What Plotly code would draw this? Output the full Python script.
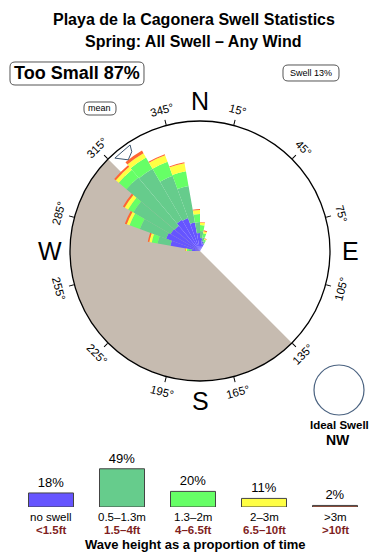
import math
import plotly.graph_objects as go

# ---------------- data ----------------
directions = [275, 285, 295, 305, 315, 325, 335, 345, 355, 5, 15, 25]
# band thicknesses (stacked outward), arbitrary radial units (circle = 130)
no_swell   = [8, 30, 36, 34, 33, 36, 35, 29, 18, 13, 10, 8]
band_05_13 = [3, 13, 28, 43, 63, 59, 45, 37, 11, 7, 4, 2]
band_13_2  = [2, 6, 11, 6, 10, 13, 15, 15, 8, 6, 4, 2]
band_2_3   = [1.5, 2.5, 3, 4, 4, 5, 7, 8, 4, 2.5, 2, 1]
band_3p    = [0.5, 1.5, 2, 2, 2, 3, 1, 1, 1, 0.5, 1, 0.5]

land_center, land_width = 225, 180
mean_dir = 322

tick_angles = [15, 45, 75, 105, 135, 165, 195, 225, 255, 285, 315, 345]
cardinals = ["N", "E", "S", "W"]
cardinal_angles = [0, 90, 180, 270]

leg_pct = [18, 49, 20, 11, 2]
leg_lab = ["no swell", "0.5\u20131.3m", "1.3\u20132m", "2\u20133m", ">3m"]
leg_ft = ["<1.5ft", "1.5\u20134ft", "4\u20136.5ft", "6.5\u201310ft", ">10ft"]

colors = ["#6655ff", "#66cc8c", "#66ff66", "#ffff44", "#ff6633"]
leg_colors = ["#6655ff", "#66cc8c", "#66ff66", "#ffff44", "#cc5533"]

W, H = 390, 560
CX, CY, R = 200, 251, 130
FONT = "Liberation Sans, Arial, sans-serif"


def px(x, y):
    return x / W, 1 - y / H


fig = go.Figure()

# land sector
fig.add_trace(go.Barpolar(r=[R], theta=[land_center], width=[land_width],
                          marker=dict(color="#c6bbb0", line=dict(width=0)),
                          hoverinfo="skip", showlegend=False))

for vals, col in zip([no_swell, band_05_13, band_13_2, band_2_3, band_3p], colors):
    fig.add_trace(go.Barpolar(r=vals, theta=directions, width=[10] * len(directions),
                              marker=dict(color=col, line=dict(width=0)),
                              showlegend=False))

# mean marker (small arrow outline at the rim)
mr = [126, 127, 120.5, 116, 126]
mt = [mean_dir - 4.5, mean_dir + 4.6, mean_dir + 3.5, mean_dir - 0.2, mean_dir - 4.5]
fig.add_trace(go.Scatterpolar(r=mr, theta=mt, mode="lines", fill="toself",
                              fillcolor="white", line=dict(color="#3d5670", width=1),
                              showlegend=False, hoverinfo="skip"))

fig.update_layout(
    width=W, height=H, margin=dict(l=0, r=0, t=0, b=0),
    paper_bgcolor="white", plot_bgcolor="white",
    font=dict(family=FONT, color="black"),
    polar=dict(
        domain=dict(x=[(CX - R) / W, (CX + R) / W], y=[1 - (CY + R) / H, 1 - (CY - R) / H]),
        bgcolor="white", barmode="stack", bargap=0,
        radialaxis=dict(range=[0, R], visible=False),
        angularaxis=dict(rotation=90, direction="clockwise", showgrid=False,
                         showticklabels=False, ticks="outside", ticklen=5,
                         tickcolor="black", tickmode="array", tickvals=tick_angles,
                         showline=True, linecolor="black", linewidth=1.3,
                         layer="above traces"),
    ),
)

ann = []
# degree labels
for a in tick_angles:
    rr = 146
    x = CX + rr * math.sin(math.radians(a))
    y = CY - rr * math.cos(math.radians(a))
    if a <= 90:
        ta = a
    elif a < 270:
        ta = a - 180
    else:
        ta = a - 360
    xp, yp = px(x, y)
    ann.append(dict(x=xp, y=yp, xref="paper", yref="paper", text=f"{a}\u00b0",
                    showarrow=False, textangle=ta, font=dict(size=11.5, family=FONT),
                    xanchor="center", yanchor="middle"))
for c, a in zip(cardinals, cardinal_angles):
    rr = 150
    x = CX + rr * math.sin(math.radians(a))
    y = CY - rr * math.cos(math.radians(a))
    xp, yp = px(x, y)
    ann.append(dict(x=xp, y=yp, xref="paper", yref="paper", text=c, showarrow=False,
                    font=dict(size=25, family=FONT), xanchor="center", yanchor="middle"))


def text(x, y, s, size, bold=False, color="black"):
    xp, yp = px(x, y)
    ann.append(dict(x=xp, y=yp, xref="paper", yref="paper",
                    text=f"<b>{s}</b>" if bold else s, showarrow=False,
                    font=dict(size=size, family=FONT, color=color),
                    xanchor="center", yanchor="middle"))


text(194, 20, "Playa de la Cagonera Swell Statistics", 16, True)
text(193, 42, "Spring: All Swell \u2013 Any Wind", 16, True)
text(77, 73.5, "Too Small 87%", 18, True)
text(311, 73, "Swell 13%", 9)
text(100, 108.5, "mean", 9)
text(339, 425, "Ideal Swell", 11.5, True)
text(338, 440, "NW", 14, True)
text(195, 544, "Wave height as a proportion of time", 13, True)

# legend labels
spacing, x_first = 71, 51
for i, (l1, l2) in enumerate(zip(leg_lab, leg_ft)):
    text(x_first + spacing * i, 516.5, l1, 11.5)
    text(x_first + spacing * i, 530, l2, 11.5, True, "#7f1f1f")

fig.update_layout(annotations=ann)


# rounded boxes
def rrect(x0, y0, x1, y1, r):
    def P(x, y):
        a, b = px(x, y)
        return f"{a:.5f},{b:.5f}"
    p = (f"M {P(x0 + r, y0)} L {P(x1 - r, y0)} Q {P(x1, y0)} {P(x1, y0 + r)} "
         f"L {P(x1, y1 - r)} Q {P(x1, y1)} {P(x1 - r, y1)} L {P(x0 + r, y1)} "
         f"Q {P(x0, y1)} {P(x0, y1 - r)} L {P(x0, y0 + r)} Q {P(x0, y0)} {P(x0 + r, y0)} Z")
    return dict(type="path", path=p, xref="paper", yref="paper",
                line=dict(color="#555555", width=1))


shapes = [rrect(10, 62, 144, 85, 5), rrect(283, 65, 339, 81, 5), rrect(84, 102, 116, 115, 5)]
# ideal swell circle
a0, b0 = px(339 - 25, 390 - 25)
a1, b1 = px(339 + 25, 390 + 25)
shapes.append(dict(type="circle", xref="paper", yref="paper", x0=a0, y0=b1, x1=a1, y1=b0,
                   line=dict(color="#4a6280", width=1.2)))
fig.update_layout(shapes=shapes)

# legend bars
x0v = -x_first / spacing
x1v = x0v + W / spacing
bot_px, top_px, ppp = 507, 450, 0.78
fig.add_trace(go.Bar(x=list(range(len(leg_pct))), y=leg_pct, width=45 / spacing,
                     marker=dict(color=leg_colors, line=dict(color="#444444", width=1)),
                     text=[f"{v}%" for v in leg_pct], textposition="outside",
                     textfont=dict(size=13, family=FONT, color="black"),
                     cliponaxis=False, showlegend=False, xaxis="x", yaxis="y"))
fig.update_layout(
    xaxis=dict(domain=[0, 1], range=[x0v, x1v], visible=False, fixedrange=True),
    yaxis=dict(domain=[1 - bot_px / H, 1 - top_px / H], range=[0, (bot_px - top_px) / ppp],
               visible=False, fixedrange=True),
)

fig.write_html("out.html")
